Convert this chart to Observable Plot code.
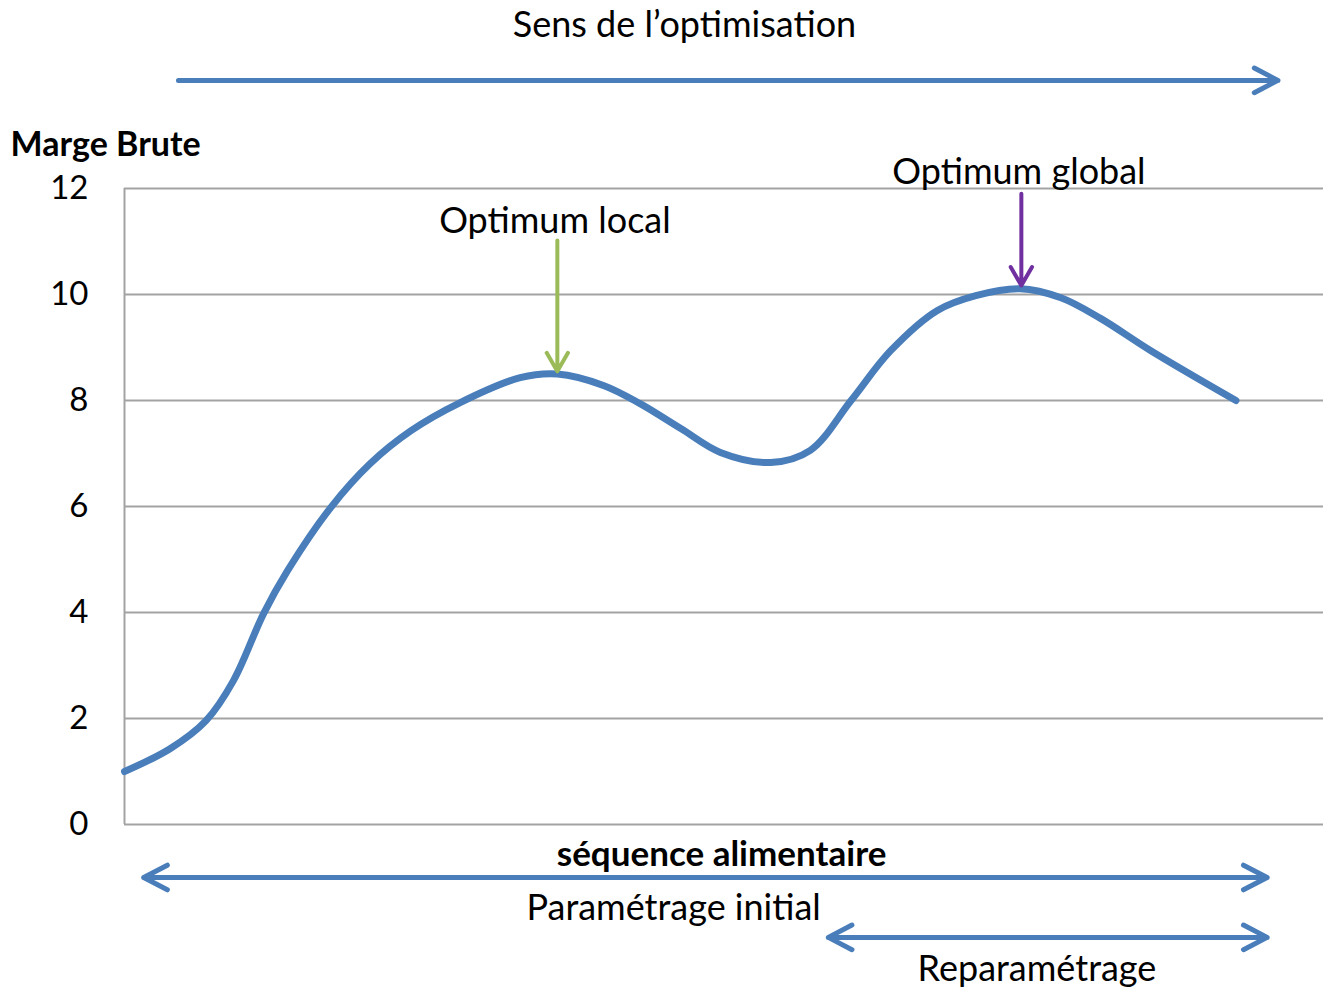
<!DOCTYPE html>
<html>
<head>
<meta charset="utf-8">
<script src="https://cdn.jsdelivr.net/npm/d3@7"></script>
<script src="https://cdn.jsdelivr.net/npm/@observablehq/plot@0.6"></script>
<style>
  html, body { margin: 0; padding: 0; background: #fff; }
  #chart svg { display: block; }
</style>
</head>
<body>
<div id="chart"></div>
<script>
// Curve: position along the feeding sequence (0–100) and gross margin
const sequence = [0, 3.8, 6.8, 9.1, 11.6, 13.6, 17.2, 20.5, 23.9, 28.0, 33.0, 36.1, 40.0, 43.0, 46.4, 49.7, 53.9, 57.2, 60.6, 63.9, 67.8, 71.0, 74.7, 78.1, 81.4, 85.6, 92.7];
const marge    = [1.0, 1.43, 1.96, 2.72, 3.98, 4.79, 5.98, 6.81, 7.43, 7.96, 8.43, 8.5, 8.28, 7.94, 7.47, 7.02, 6.83, 7.06, 8.0, 8.94, 9.7, 9.98, 10.11, 9.94, 9.55, 8.94, 8.0];
const yTicks = [0, 2, 4, 6, 8, 10, 12];

// Annotation labels
const labelTexts = ["Sens de l’optimisation", "Optimum local", "Optimum global", "Paramétrage initial", "Reparamétrage"];
const labelX     = [46.7, 35.9, 74.6, 45.8, 76.1];
const labelY     = [15.08, 11.38, 12.3, -1.58, -2.74];
const axisTitle  = "Marge Brute";
const axisTitleX = -9.5;
const axisTitleY = 12.81;
const xTitle     = "séquence alimentaire";
const xTitleX    = 49.8;
const xTitleY    = -0.58;

// Arrows: direction arrow (top), range arrows (bottom), pointer arrows
const rangeNames = ["sens", "initial", "reparam"];
const rangeFrom  = [4.5, 1.6, 58.7];
const rangeTo    = [96.2, 95.3, 95.3];
const rangeY     = [14.04, -1.0, -2.13];
const rangeBoth  = [false, true, true];
const pointerX      = [36.1, 74.8];
const pointerFrom   = [11.02, 11.9];
const pointerTo     = [8.55, 10.17];
const pointerColors = ["#9bbb59", "#7030a0"];

const curve = sequence.map((s, i) => ({s, m: marge[i]}));
const labels = labelTexts.map((t, i) => ({t, x: labelX[i], y: labelY[i]}));
const rangeArrows = [];
rangeNames.forEach((n, i) => {
  if (rangeBoth[i]) {
    const mid = (rangeFrom[i] + rangeTo[i]) / 2;
    rangeArrows.push({x1: mid, x2: rangeTo[i], y: rangeY[i]});
    rangeArrows.push({x1: mid, x2: rangeFrom[i], y: rangeY[i]});
  } else {
    rangeArrows.push({x1: rangeFrom[i], x2: rangeTo[i], y: rangeY[i]});
  }
});
const pointers = pointerX.map((x, i) => ({x, y1: pointerFrom[i], y2: pointerTo[i], c: pointerColors[i]}));

const font = "Lato, 'Open Sans', sans-serif";
const chart = Plot.plot({
  width: 1324,
  height: 989,
  marginLeft: 124,
  marginRight: 1,
  marginTop: 188,
  marginBottom: 165,
  style: {fontFamily: font, fontSize: "30px", color: "#000", background: "#fff"},
  x: {domain: [0, 100], axis: null},
  y: {domain: [0, 12], axis: null},
  marks: [
    Plot.ruleY(yTicks, {x1: 0, x2: 100, stroke: "#a3a3a3", strokeWidth: 2}),
    Plot.ruleX([0], {y1: 0, y2: 12, stroke: "#a3a3a3", strokeWidth: 2}),
    Plot.axisY({ticks: yTicks, tickSize: 0, tickPadding: 36, fontSize: 33, label: null}),
    Plot.line(curve, {x: "s", y: "m", curve: "catmull-rom", stroke: "#4a7ebb", strokeWidth: 7, strokeLinecap: "round"}),
    Plot.arrow(rangeArrows, {x1: "x1", x2: "x2", y1: "y", y2: "y", stroke: "#4a7ebb", strokeWidth: 5, headLength: 8, headAngle: 55, strokeLinecap: "round", strokeLinejoin: "round"}),
    Plot.arrow(pointers, {x1: "x", x2: "x", y1: "y1", y2: "y2", stroke: "c", strokeWidth: 4, headLength: 8, headAngle: 60, strokeLinecap: "round", strokeLinejoin: "round"}),
    Plot.text(labels, {x: "x", y: "y", text: "t", fontSize: 36, fill: "#000", lineAnchor: "middle"}),
    Plot.text([axisTitle], {x: axisTitleX, y: axisTitleY, text: d => d, textAnchor: "start", fontSize: 34, fontWeight: "bold", fill: "#000", lineAnchor: "middle"}),
    Plot.text([xTitle], {x: xTitleX, y: xTitleY, text: d => d, textAnchor: "middle", fontSize: 35, fontWeight: "bold", fill: "#000", lineAnchor: "middle"})
  ]
});
document.getElementById("chart").appendChild(chart);
</script>
</body>
</html>
